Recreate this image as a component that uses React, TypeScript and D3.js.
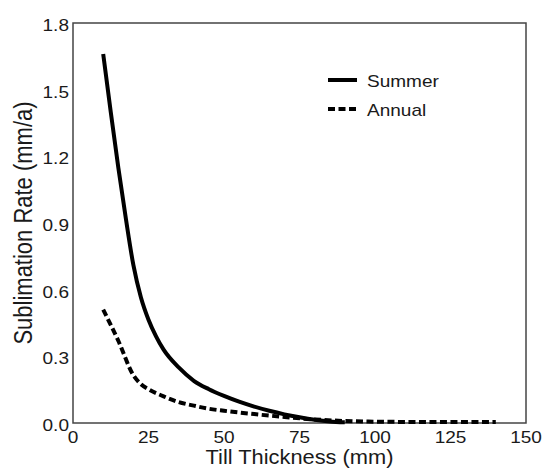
import React from "react";
import * as d3 from "d3";

const summerX = [10, 12.5, 15, 17.5, 20, 22.5, 25, 27.5, 30, 35, 40, 45, 50, 55, 60, 65, 70, 75, 80, 85, 90];
const summerY = [1.66, 1.40, 1.15, 0.92, 0.71, 0.565, 0.465, 0.39, 0.33, 0.25, 0.19, 0.152, 0.122, 0.096, 0.074, 0.055, 0.039, 0.026, 0.015, 0.007, 0.003];

const annualX = [10, 15, 20, 22.5, 25, 30, 35, 40, 45, 50, 60, 70, 80, 90, 100, 110, 120, 130, 140];
const annualY = [0.51, 0.37, 0.215, 0.175, 0.152, 0.12, 0.094, 0.078, 0.064, 0.055, 0.04, 0.027, 0.016, 0.009, 0.006, 0.005, 0.005, 0.005, 0.005];

const xTicks = [0, 25, 50, 75, 100, 125, 150];
const yTicks = [0, 0.3, 0.6, 0.9, 1.2, 1.5, 1.8];

const legendItems = ["Summer", "Annual"];

const W = 543;
const H = 468;
const M = { left: 73, top: 23, right: 526, bottom: 423 };
const FONT = "'Liberation Sans', Arial, Helvetica, sans-serif";
const SX = 1.12;

function SText({ x, y, size, anchor = "start", rotate = false, sx = SX, children }: any) {
  const t = rotate
    ? `translate(${x},${y}) scale(${sx},1) rotate(-90)`
    : `translate(${x},${y}) scale(${sx},1)`;
  return (
    <text transform={t} fontSize={size} textAnchor={anchor} fontFamily={FONT} fill="#1a1a1a">
      {children}
    </text>
  );
}

export default function App() {
  const x = d3.scaleLinear().domain([0, 150]).range([M.left, M.right]);
  const y = d3.scaleLinear().domain([0, 1.8]).range([M.bottom, M.top]);

  const line = d3
    .line<[number, number]>()
    .x((d) => x(d[0]))
    .y((d) => y(d[1]))
    .curve(d3.curveMonotoneX);

  const summer = summerX.map((v, i) => [v, summerY[i]] as [number, number]);
  const annual = annualX.map((v, i) => [v, annualY[i]] as [number, number]);

  return (
    <svg
      width={W}
      height={H}
      style={{ position: "absolute", left: 0, top: 0, background: "#fff" }}
    >
      <rect x={0} y={0} width={W} height={H} fill="#fff" />
      <rect
        x={M.left}
        y={M.top}
        width={M.right - M.left}
        height={M.bottom - M.top}
        fill="none"
        stroke="#444"
        strokeWidth={1.5}
      />
      <path d={line(annual) || ""} fill="none" stroke="#000" strokeWidth={4} strokeDasharray="7,3.5" />
      <path d={line(summer) || ""} fill="none" stroke="#000" strokeWidth={4} />

      {yTicks.map((t) => (
        <SText key={"y" + t} x={69} y={y(t) + 8} size={17} anchor="end">
          {t.toFixed(1)}
        </SText>
      ))}
      {xTicks.map((t) => (
        <SText key={"x" + t} x={x(t)} y={443} size={17} anchor="middle">
          {String(t)}
        </SText>
      ))}

      <SText x={(M.left + M.right) / 2} y={464} size={19.5} anchor="middle">
        Till Thickness (mm)
      </SText>
      <SText x={32} y={(M.top + M.bottom) / 2} size={22} anchor="middle" rotate sx={1.2}>
        Sublimation Rate (mm/a)
      </SText>

      {legendItems.map((name, i) => (
        <g key={name}>
          <line
            x1={328}
            x2={357}
            y1={80 + i * 29}
            y2={80 + i * 29}
            stroke="#000"
            strokeWidth={4}
            strokeDasharray={i === 1 ? "7,3.5" : undefined}
          />
          <SText x={367} y={86.5 + i * 29} size={17} anchor="start">
            {name}
          </SText>
        </g>
      ))}
    </svg>
  );
}
